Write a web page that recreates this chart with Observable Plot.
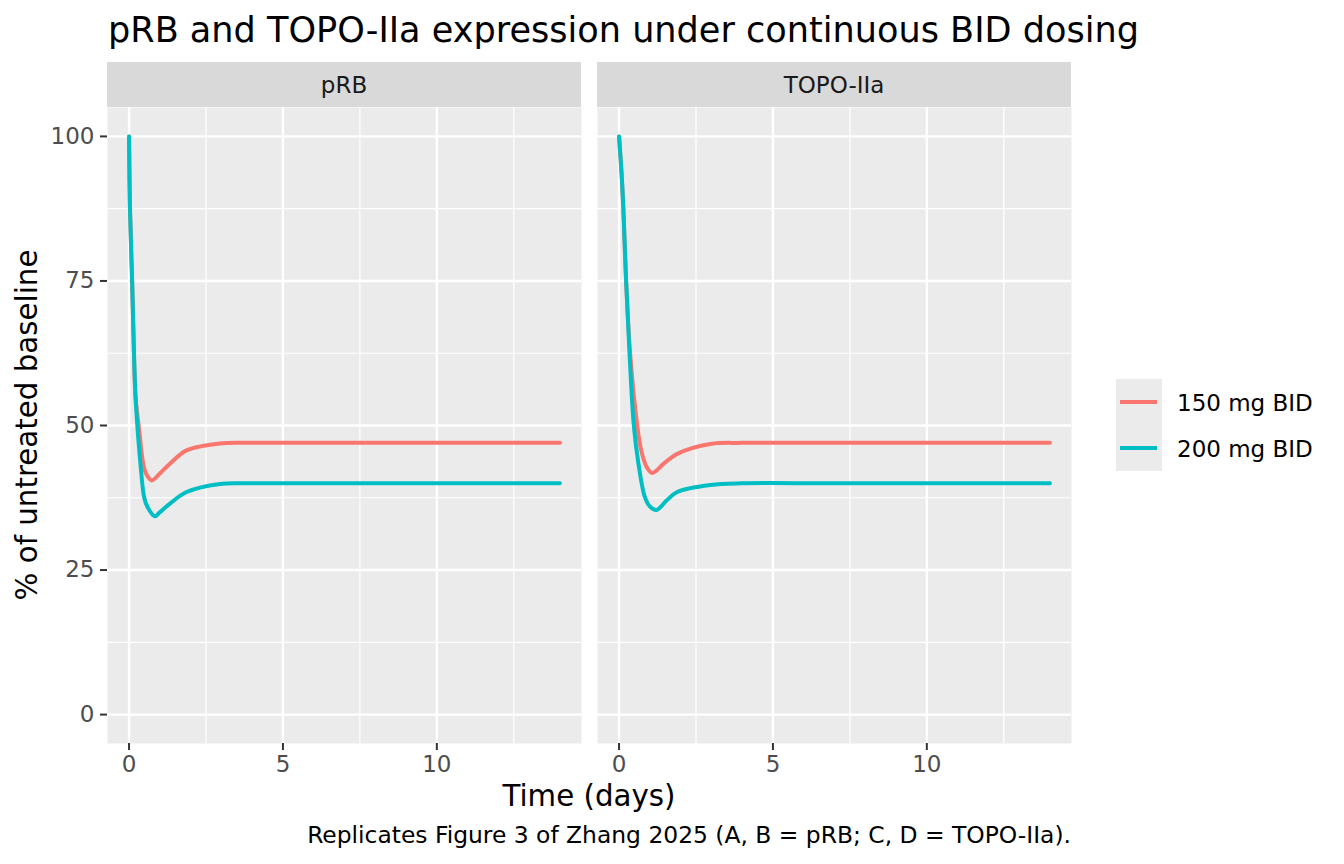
<!DOCTYPE html>
<html>
<head>
<meta charset="utf-8">
<script src="https://cdn.jsdelivr.net/npm/d3@7"></script>
<script src="https://cdn.jsdelivr.net/npm/@observablehq/plot@0.6"></script>
<style>
  body { margin: 0; background: #ffffff; }
  #chart { width: 1344px; height: 864px; }
</style>
</head>
<body>
<div id="chart"></div>
<script>
// ---- Data ----
const panels = ["pRB", "TOPO-IIa"];
const doses = ["150 mg BID", "200 mg BID"];
const doseColors = ["#F8766D", "#00BFC4"];

const xTicks = [0, 5, 10];
const xMinorTicks = [2.5, 7.5, 12.5];
const yTicks = [0, 25, 50, 75, 100];
const yMinorTicks = [12.5, 37.5, 62.5, 87.5];

const prb150Time  = [0, 0.03, 0.1, 0.16, 0.21, 0.33, 0.46, 0.56, 0.74, 1.0, 1.33, 1.87, 2.95, 4, 7, 14];
const prb150Value = [100, 87.5, 75, 62.5, 55, 49.2, 43.4, 41.6, 40.5, 41.7, 43.4, 45.7, 46.9, 47, 47, 47];

const prb200Time  = [0, 0.03, 0.1, 0.16, 0.21, 0.28, 0.37, 0.49, 0.6, 0.84, 1.0, 1.33, 1.87, 2.95, 4, 7, 14];
const prb200Value = [100, 87.5, 75, 62.5, 55, 49.2, 43.4, 37.6, 35.9, 34.3, 35.0, 36.5, 38.5, 39.9, 40, 40, 40];

const topo150Time  = [0, 0.08, 0.14, 0.23, 0.36, 0.59, 0.72, 0.9, 1.08, 1.45, 1.89, 2.97, 4, 7, 14];
const topo150Value = [100, 93.75, 87.5, 75, 62.5, 50, 45.7, 42.8, 41.8, 43.4, 45.1, 46.8, 47, 47, 47];

const topo200Time  = [0, 0.08, 0.14, 0.23, 0.34, 0.48, 0.63, 0.84, 1.0, 1.22, 1.56, 1.89, 2.97, 4, 7, 14];
const topo200Value = [100, 93.75, 87.5, 75, 62.5, 50, 43.4, 37.6, 36.0, 35.4, 37.1, 38.5, 39.7, 40, 40, 40];

const titleText = "pRB and TOPO-IIa expression under continuous BID dosing";
const xLabel = "Time (days)";
const yLabel = "% of untreated baseline";
const captionText = "Replicates Figure 3 of Zhang 2025 (A, B = pRB; C, D = TOPO-IIa).";

const series = [
  {panel: "pRB", dose: "150 mg BID", t: prb150Time, v: prb150Value},
  {panel: "pRB", dose: "200 mg BID", t: prb200Time, v: prb200Value},
  {panel: "TOPO-IIa", dose: "150 mg BID", t: topo150Time, v: topo150Value},
  {panel: "TOPO-IIa", dose: "200 mg BID", t: topo200Time, v: topo200Value}
];
const data = series.flatMap(s => s.t.map((t, i) => ({panel: s.panel, dose: s.dose, t, v: s.v[i]})));

// ---- Layout ----
const W = 1344, H = 864;
const mL = 107, mR = 273, mT = 107, mB = 121;
const panelGap = 16;
const facetW = (W - mL - mR - panelGap) / 2;
const FONT = "DejaVu Sans, sans-serif";

const chart = Plot.plot({
  width: W,
  height: H,
  marginLeft: mL,
  marginRight: mR,
  marginTop: mT,
  marginBottom: mB,
  style: {fontFamily: FONT, background: "white", overflow: "visible"},
  fx: {domain: panels, paddingInner: panelGap / (facetW + panelGap), paddingOuter: 0, round: false, axis: null, label: null},
  x: {domain: [-0.7, 14.7], label: null},
  y: {domain: [-5, 105], label: null},
  color: {domain: doses, range: doseColors},
  marks: [
    Plot.frame({fill: "#EBEBEB", stroke: "none"}),
    Plot.gridX(xMinorTicks, {stroke: "white", strokeOpacity: 1, strokeWidth: 1.2}),
    Plot.gridY(yMinorTicks, {stroke: "white", strokeOpacity: 1, strokeWidth: 1.2}),
    Plot.gridX(xTicks, {stroke: "white", strokeOpacity: 1, strokeWidth: 2.4}),
    Plot.gridY(yTicks, {stroke: "white", strokeOpacity: 1, strokeWidth: 2.4}),
    Plot.line(data, {fx: "panel", x: "t", y: "v", stroke: "dose", z: "dose", strokeWidth: 4, curve: "catmull-rom"}),
    Plot.axisX(xTicks, {tickSize: 7, tickPadding: 5, stroke: "#333333", strokeWidth: 2, fill: "#4D4D4D", fontSize: 23, label: null}),
    Plot.axisY(yTicks, {tickSize: 7, tickPadding: 6, stroke: "#333333", strokeWidth: 2, fill: "#4D4D4D", fontSize: 23, label: null})
  ]
});

document.getElementById("chart").appendChild(chart);

// ---- Strips, titles, legend, caption ----
const svg = d3.select(chart);
const fx = chart.scale("fx");
const bw = fx.bandwidth;
const stripH = 45;

panels.forEach(p => {
  const x0 = fx.apply(p);
  svg.append("rect")
    .attr("x", x0).attr("y", mT - stripH)
    .attr("width", bw).attr("height", stripH)
    .attr("fill", "#D9D9D9");
  svg.append("text")
    .attr("x", x0 + bw / 2).attr("y", mT - 14)
    .attr("text-anchor", "middle")
    .attr("font-family", FONT).attr("font-size", 23)
    .attr("fill", "#1A1A1A")
    .text(p);
});

svg.append("text")
  .attr("x", mL + 1).attr("y", 42)
  .attr("text-anchor", "start")
  .attr("font-family", FONT).attr("font-size", 35.1)
  .attr("fill", "black")
  .text(titleText);

const panelsLeft = fx.apply(panels[0]);
const panelsRight = fx.apply(panels[panels.length - 1]) + bw;

svg.append("text")
  .attr("x", (panelsLeft + panelsRight) / 2).attr("y", 806)
  .attr("text-anchor", "middle")
  .attr("font-family", FONT).attr("font-size", 29.3)
  .attr("fill", "black")
  .text(xLabel);

svg.append("text")
  .attr("transform", `translate(37,${(mT + (H - mB)) / 2}) rotate(-90)`)
  .attr("text-anchor", "middle")
  .attr("font-family", FONT).attr("font-size", 29.3)
  .attr("fill", "black")
  .text(yLabel);

svg.append("text")
  .attr("x", panelsRight).attr("y", 843)
  .attr("text-anchor", "end")
  .attr("font-family", FONT).attr("font-size", 23.4)
  .attr("fill", "black")
  .text(captionText);

// legend
const legX = 1116, legY = 379, keyW = 46, keyH = 46;
const legend = svg.append("g");
doses.forEach((d, i) => {
  const y = legY + i * keyH;
  legend.append("rect")
    .attr("x", legX).attr("y", y)
    .attr("width", keyW).attr("height", keyH)
    .attr("fill", "#EBEBEB");
  legend.append("line")
    .attr("x1", legX + 4).attr("x2", legX + keyW - 5)
    .attr("y1", y + keyH / 2).attr("y2", y + keyH / 2)
    .attr("stroke", chart.scale("color").apply(d))
    .attr("stroke-width", 4);
  legend.append("text")
    .attr("x", legX + keyW + 15).attr("y", y + keyH / 2 + 9)
    .attr("text-anchor", "start")
    .attr("font-family", FONT).attr("font-size", 23)
    .attr("fill", "black")
    .text(d);
});
</script>
</body>
</html>
